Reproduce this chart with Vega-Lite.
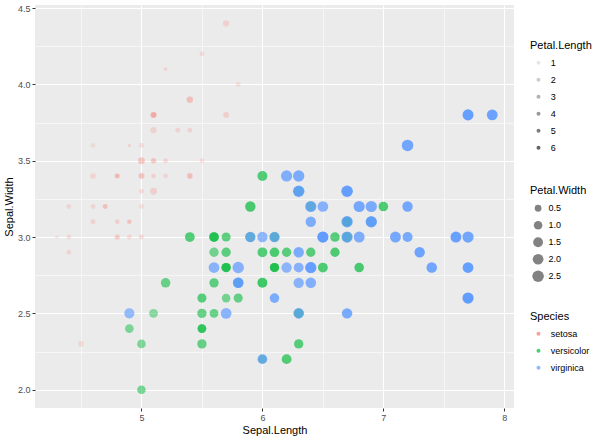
{
  "$schema": "https://vega.github.io/schema/vega-lite/v6.json",
  "width": 479,
  "height": 403,
  "autosize": {"type": "none"},
  "padding": {"left": 35, "top": 5, "right": 86, "bottom": 34},
  "background": "white",
  "config": {
    "font": "Liberation Sans",
    "view": {"fill": "#EBEBEB", "stroke": null},
    "axis": {
      "domain": false,
      "labelFont": "Liberation Sans",
      "labelFontSize": 9,
      "labelColor": "#4D4D4D",
      "titleFont": "Liberation Sans",
      "titleFontSize": 11,
      "titleFontWeight": "normal",
      "titleColor": "#000000",
      "tickColor": "#333333",
      "tickSize": 3,
      "labelPadding": 2,
      "gridColor": "#FFFFFF",
      "gridOpacity": 1,
      "labelOverlap": false,
      "labelFlush": false
    },
    "legend": {
      "titleFont": "Liberation Sans",
      "titleFontSize": 11,
      "titleFontWeight": "normal",
      "titleColor": "#000000",
      "labelFont": "Liberation Sans",
      "labelFontSize": 9,
      "labelColor": "#000000",
      "padding": 0,
      "orient": "none",
      "symbolStrokeWidth": 0,
      "clipHeight": 16.5,
      "rowPadding": 0,
      "titlePadding": 4
    }
  },
  "data": {
    "values": [
      {"SepalLength": 5.1, "SepalWidth": 3.5, "PetalLength": 1.4, "PetalWidth": 0.2, "Species": "setosa"},
      {"SepalLength": 4.9, "SepalWidth": 3.0, "PetalLength": 1.4, "PetalWidth": 0.2, "Species": "setosa"},
      {"SepalLength": 4.7, "SepalWidth": 3.2, "PetalLength": 1.3, "PetalWidth": 0.2, "Species": "setosa"},
      {"SepalLength": 4.6, "SepalWidth": 3.1, "PetalLength": 1.5, "PetalWidth": 0.2, "Species": "setosa"},
      {"SepalLength": 5.0, "SepalWidth": 3.6, "PetalLength": 1.4, "PetalWidth": 0.2, "Species": "setosa"},
      {"SepalLength": 5.4, "SepalWidth": 3.9, "PetalLength": 1.7, "PetalWidth": 0.4, "Species": "setosa"},
      {"SepalLength": 4.6, "SepalWidth": 3.4, "PetalLength": 1.4, "PetalWidth": 0.3, "Species": "setosa"},
      {"SepalLength": 5.0, "SepalWidth": 3.4, "PetalLength": 1.5, "PetalWidth": 0.2, "Species": "setosa"},
      {"SepalLength": 4.4, "SepalWidth": 2.9, "PetalLength": 1.4, "PetalWidth": 0.2, "Species": "setosa"},
      {"SepalLength": 4.9, "SepalWidth": 3.1, "PetalLength": 1.5, "PetalWidth": 0.1, "Species": "setosa"},
      {"SepalLength": 5.4, "SepalWidth": 3.7, "PetalLength": 1.5, "PetalWidth": 0.2, "Species": "setosa"},
      {"SepalLength": 4.8, "SepalWidth": 3.4, "PetalLength": 1.6, "PetalWidth": 0.2, "Species": "setosa"},
      {"SepalLength": 4.8, "SepalWidth": 3.0, "PetalLength": 1.4, "PetalWidth": 0.1, "Species": "setosa"},
      {"SepalLength": 4.3, "SepalWidth": 3.0, "PetalLength": 1.1, "PetalWidth": 0.1, "Species": "setosa"},
      {"SepalLength": 5.8, "SepalWidth": 4.0, "PetalLength": 1.2, "PetalWidth": 0.2, "Species": "setosa"},
      {"SepalLength": 5.7, "SepalWidth": 4.4, "PetalLength": 1.5, "PetalWidth": 0.4, "Species": "setosa"},
      {"SepalLength": 5.4, "SepalWidth": 3.9, "PetalLength": 1.3, "PetalWidth": 0.4, "Species": "setosa"},
      {"SepalLength": 5.1, "SepalWidth": 3.5, "PetalLength": 1.4, "PetalWidth": 0.3, "Species": "setosa"},
      {"SepalLength": 5.7, "SepalWidth": 3.8, "PetalLength": 1.7, "PetalWidth": 0.3, "Species": "setosa"},
      {"SepalLength": 5.1, "SepalWidth": 3.8, "PetalLength": 1.5, "PetalWidth": 0.3, "Species": "setosa"},
      {"SepalLength": 5.4, "SepalWidth": 3.4, "PetalLength": 1.7, "PetalWidth": 0.2, "Species": "setosa"},
      {"SepalLength": 5.1, "SepalWidth": 3.7, "PetalLength": 1.5, "PetalWidth": 0.4, "Species": "setosa"},
      {"SepalLength": 4.6, "SepalWidth": 3.6, "PetalLength": 1.0, "PetalWidth": 0.2, "Species": "setosa"},
      {"SepalLength": 5.1, "SepalWidth": 3.3, "PetalLength": 1.7, "PetalWidth": 0.5, "Species": "setosa"},
      {"SepalLength": 4.8, "SepalWidth": 3.4, "PetalLength": 1.9, "PetalWidth": 0.2, "Species": "setosa"},
      {"SepalLength": 5.0, "SepalWidth": 3.0, "PetalLength": 1.6, "PetalWidth": 0.2, "Species": "setosa"},
      {"SepalLength": 5.0, "SepalWidth": 3.4, "PetalLength": 1.6, "PetalWidth": 0.4, "Species": "setosa"},
      {"SepalLength": 5.2, "SepalWidth": 3.5, "PetalLength": 1.5, "PetalWidth": 0.2, "Species": "setosa"},
      {"SepalLength": 5.2, "SepalWidth": 3.4, "PetalLength": 1.4, "PetalWidth": 0.2, "Species": "setosa"},
      {"SepalLength": 4.7, "SepalWidth": 3.2, "PetalLength": 1.6, "PetalWidth": 0.2, "Species": "setosa"},
      {"SepalLength": 4.8, "SepalWidth": 3.1, "PetalLength": 1.6, "PetalWidth": 0.2, "Species": "setosa"},
      {"SepalLength": 5.4, "SepalWidth": 3.4, "PetalLength": 1.5, "PetalWidth": 0.4, "Species": "setosa"},
      {"SepalLength": 5.2, "SepalWidth": 4.1, "PetalLength": 1.5, "PetalWidth": 0.1, "Species": "setosa"},
      {"SepalLength": 5.5, "SepalWidth": 4.2, "PetalLength": 1.4, "PetalWidth": 0.2, "Species": "setosa"},
      {"SepalLength": 4.9, "SepalWidth": 3.1, "PetalLength": 1.5, "PetalWidth": 0.2, "Species": "setosa"},
      {"SepalLength": 5.0, "SepalWidth": 3.2, "PetalLength": 1.2, "PetalWidth": 0.2, "Species": "setosa"},
      {"SepalLength": 5.5, "SepalWidth": 3.5, "PetalLength": 1.3, "PetalWidth": 0.2, "Species": "setosa"},
      {"SepalLength": 4.9, "SepalWidth": 3.6, "PetalLength": 1.4, "PetalWidth": 0.1, "Species": "setosa"},
      {"SepalLength": 4.4, "SepalWidth": 3.0, "PetalLength": 1.3, "PetalWidth": 0.2, "Species": "setosa"},
      {"SepalLength": 5.1, "SepalWidth": 3.4, "PetalLength": 1.5, "PetalWidth": 0.2, "Species": "setosa"},
      {"SepalLength": 5.0, "SepalWidth": 3.5, "PetalLength": 1.3, "PetalWidth": 0.3, "Species": "setosa"},
      {"SepalLength": 4.5, "SepalWidth": 2.3, "PetalLength": 1.3, "PetalWidth": 0.3, "Species": "setosa"},
      {"SepalLength": 4.4, "SepalWidth": 3.2, "PetalLength": 1.3, "PetalWidth": 0.2, "Species": "setosa"},
      {"SepalLength": 5.0, "SepalWidth": 3.5, "PetalLength": 1.6, "PetalWidth": 0.6, "Species": "setosa"},
      {"SepalLength": 5.1, "SepalWidth": 3.8, "PetalLength": 1.9, "PetalWidth": 0.4, "Species": "setosa"},
      {"SepalLength": 4.8, "SepalWidth": 3.0, "PetalLength": 1.4, "PetalWidth": 0.3, "Species": "setosa"},
      {"SepalLength": 5.1, "SepalWidth": 3.8, "PetalLength": 1.6, "PetalWidth": 0.2, "Species": "setosa"},
      {"SepalLength": 4.6, "SepalWidth": 3.2, "PetalLength": 1.4, "PetalWidth": 0.2, "Species": "setosa"},
      {"SepalLength": 5.3, "SepalWidth": 3.7, "PetalLength": 1.5, "PetalWidth": 0.2, "Species": "setosa"},
      {"SepalLength": 5.0, "SepalWidth": 3.3, "PetalLength": 1.4, "PetalWidth": 0.2, "Species": "setosa"},
      {"SepalLength": 7.0, "SepalWidth": 3.2, "PetalLength": 4.7, "PetalWidth": 1.4, "Species": "versicolor"},
      {"SepalLength": 6.4, "SepalWidth": 3.2, "PetalLength": 4.5, "PetalWidth": 1.5, "Species": "versicolor"},
      {"SepalLength": 6.9, "SepalWidth": 3.1, "PetalLength": 4.9, "PetalWidth": 1.5, "Species": "versicolor"},
      {"SepalLength": 5.5, "SepalWidth": 2.3, "PetalLength": 4.0, "PetalWidth": 1.3, "Species": "versicolor"},
      {"SepalLength": 6.5, "SepalWidth": 2.8, "PetalLength": 4.6, "PetalWidth": 1.5, "Species": "versicolor"},
      {"SepalLength": 5.7, "SepalWidth": 2.8, "PetalLength": 4.5, "PetalWidth": 1.3, "Species": "versicolor"},
      {"SepalLength": 6.3, "SepalWidth": 3.3, "PetalLength": 4.7, "PetalWidth": 1.6, "Species": "versicolor"},
      {"SepalLength": 4.9, "SepalWidth": 2.4, "PetalLength": 3.3, "PetalWidth": 1.0, "Species": "versicolor"},
      {"SepalLength": 6.6, "SepalWidth": 2.9, "PetalLength": 4.6, "PetalWidth": 1.3, "Species": "versicolor"},
      {"SepalLength": 5.2, "SepalWidth": 2.7, "PetalLength": 3.9, "PetalWidth": 1.4, "Species": "versicolor"},
      {"SepalLength": 5.0, "SepalWidth": 2.0, "PetalLength": 3.5, "PetalWidth": 1.0, "Species": "versicolor"},
      {"SepalLength": 5.9, "SepalWidth": 3.0, "PetalLength": 4.2, "PetalWidth": 1.5, "Species": "versicolor"},
      {"SepalLength": 6.0, "SepalWidth": 2.2, "PetalLength": 4.0, "PetalWidth": 1.0, "Species": "versicolor"},
      {"SepalLength": 6.1, "SepalWidth": 2.9, "PetalLength": 4.7, "PetalWidth": 1.4, "Species": "versicolor"},
      {"SepalLength": 5.6, "SepalWidth": 2.9, "PetalLength": 3.6, "PetalWidth": 1.3, "Species": "versicolor"},
      {"SepalLength": 6.7, "SepalWidth": 3.1, "PetalLength": 4.4, "PetalWidth": 1.4, "Species": "versicolor"},
      {"SepalLength": 5.6, "SepalWidth": 3.0, "PetalLength": 4.5, "PetalWidth": 1.5, "Species": "versicolor"},
      {"SepalLength": 5.8, "SepalWidth": 2.7, "PetalLength": 4.1, "PetalWidth": 1.0, "Species": "versicolor"},
      {"SepalLength": 6.2, "SepalWidth": 2.2, "PetalLength": 4.5, "PetalWidth": 1.5, "Species": "versicolor"},
      {"SepalLength": 5.6, "SepalWidth": 2.5, "PetalLength": 3.9, "PetalWidth": 1.1, "Species": "versicolor"},
      {"SepalLength": 5.9, "SepalWidth": 3.2, "PetalLength": 4.8, "PetalWidth": 1.8, "Species": "versicolor"},
      {"SepalLength": 6.1, "SepalWidth": 2.8, "PetalLength": 4.0, "PetalWidth": 1.3, "Species": "versicolor"},
      {"SepalLength": 6.3, "SepalWidth": 2.5, "PetalLength": 4.9, "PetalWidth": 1.5, "Species": "versicolor"},
      {"SepalLength": 6.1, "SepalWidth": 2.8, "PetalLength": 4.7, "PetalWidth": 1.2, "Species": "versicolor"},
      {"SepalLength": 6.4, "SepalWidth": 2.9, "PetalLength": 4.3, "PetalWidth": 1.3, "Species": "versicolor"},
      {"SepalLength": 6.6, "SepalWidth": 3.0, "PetalLength": 4.4, "PetalWidth": 1.4, "Species": "versicolor"},
      {"SepalLength": 6.8, "SepalWidth": 2.8, "PetalLength": 4.8, "PetalWidth": 1.4, "Species": "versicolor"},
      {"SepalLength": 6.7, "SepalWidth": 3.0, "PetalLength": 5.0, "PetalWidth": 1.7, "Species": "versicolor"},
      {"SepalLength": 6.0, "SepalWidth": 2.9, "PetalLength": 4.5, "PetalWidth": 1.5, "Species": "versicolor"},
      {"SepalLength": 5.7, "SepalWidth": 2.6, "PetalLength": 3.5, "PetalWidth": 1.0, "Species": "versicolor"},
      {"SepalLength": 5.5, "SepalWidth": 2.4, "PetalLength": 3.8, "PetalWidth": 1.1, "Species": "versicolor"},
      {"SepalLength": 5.5, "SepalWidth": 2.4, "PetalLength": 3.7, "PetalWidth": 1.0, "Species": "versicolor"},
      {"SepalLength": 5.8, "SepalWidth": 2.7, "PetalLength": 3.9, "PetalWidth": 1.2, "Species": "versicolor"},
      {"SepalLength": 6.0, "SepalWidth": 2.7, "PetalLength": 5.1, "PetalWidth": 1.6, "Species": "versicolor"},
      {"SepalLength": 5.4, "SepalWidth": 3.0, "PetalLength": 4.5, "PetalWidth": 1.5, "Species": "versicolor"},
      {"SepalLength": 6.0, "SepalWidth": 3.4, "PetalLength": 4.5, "PetalWidth": 1.6, "Species": "versicolor"},
      {"SepalLength": 6.7, "SepalWidth": 3.1, "PetalLength": 4.7, "PetalWidth": 1.5, "Species": "versicolor"},
      {"SepalLength": 6.3, "SepalWidth": 2.3, "PetalLength": 4.4, "PetalWidth": 1.3, "Species": "versicolor"},
      {"SepalLength": 5.6, "SepalWidth": 3.0, "PetalLength": 4.1, "PetalWidth": 1.3, "Species": "versicolor"},
      {"SepalLength": 5.5, "SepalWidth": 2.5, "PetalLength": 4.0, "PetalWidth": 1.3, "Species": "versicolor"},
      {"SepalLength": 5.5, "SepalWidth": 2.6, "PetalLength": 4.4, "PetalWidth": 1.2, "Species": "versicolor"},
      {"SepalLength": 6.1, "SepalWidth": 3.0, "PetalLength": 4.6, "PetalWidth": 1.4, "Species": "versicolor"},
      {"SepalLength": 5.8, "SepalWidth": 2.6, "PetalLength": 4.0, "PetalWidth": 1.2, "Species": "versicolor"},
      {"SepalLength": 5.0, "SepalWidth": 2.3, "PetalLength": 3.3, "PetalWidth": 1.0, "Species": "versicolor"},
      {"SepalLength": 5.6, "SepalWidth": 2.7, "PetalLength": 4.2, "PetalWidth": 1.3, "Species": "versicolor"},
      {"SepalLength": 5.7, "SepalWidth": 3.0, "PetalLength": 4.2, "PetalWidth": 1.2, "Species": "versicolor"},
      {"SepalLength": 5.7, "SepalWidth": 2.9, "PetalLength": 4.2, "PetalWidth": 1.3, "Species": "versicolor"},
      {"SepalLength": 6.2, "SepalWidth": 2.9, "PetalLength": 4.3, "PetalWidth": 1.3, "Species": "versicolor"},
      {"SepalLength": 5.1, "SepalWidth": 2.5, "PetalLength": 3.0, "PetalWidth": 1.1, "Species": "versicolor"},
      {"SepalLength": 5.7, "SepalWidth": 2.8, "PetalLength": 4.1, "PetalWidth": 1.3, "Species": "versicolor"},
      {"SepalLength": 6.3, "SepalWidth": 3.3, "PetalLength": 6.0, "PetalWidth": 2.5, "Species": "virginica"},
      {"SepalLength": 5.8, "SepalWidth": 2.7, "PetalLength": 5.1, "PetalWidth": 1.9, "Species": "virginica"},
      {"SepalLength": 7.1, "SepalWidth": 3.0, "PetalLength": 5.9, "PetalWidth": 2.1, "Species": "virginica"},
      {"SepalLength": 6.3, "SepalWidth": 2.9, "PetalLength": 5.6, "PetalWidth": 1.8, "Species": "virginica"},
      {"SepalLength": 6.5, "SepalWidth": 3.0, "PetalLength": 5.8, "PetalWidth": 2.2, "Species": "virginica"},
      {"SepalLength": 7.6, "SepalWidth": 3.0, "PetalLength": 6.6, "PetalWidth": 2.1, "Species": "virginica"},
      {"SepalLength": 4.9, "SepalWidth": 2.5, "PetalLength": 4.5, "PetalWidth": 1.7, "Species": "virginica"},
      {"SepalLength": 7.3, "SepalWidth": 2.9, "PetalLength": 6.3, "PetalWidth": 1.8, "Species": "virginica"},
      {"SepalLength": 6.7, "SepalWidth": 2.5, "PetalLength": 5.8, "PetalWidth": 1.8, "Species": "virginica"},
      {"SepalLength": 7.2, "SepalWidth": 3.6, "PetalLength": 6.1, "PetalWidth": 2.5, "Species": "virginica"},
      {"SepalLength": 6.5, "SepalWidth": 3.2, "PetalLength": 5.1, "PetalWidth": 2.0, "Species": "virginica"},
      {"SepalLength": 6.4, "SepalWidth": 2.7, "PetalLength": 5.3, "PetalWidth": 1.9, "Species": "virginica"},
      {"SepalLength": 6.8, "SepalWidth": 3.0, "PetalLength": 5.5, "PetalWidth": 2.1, "Species": "virginica"},
      {"SepalLength": 5.7, "SepalWidth": 2.5, "PetalLength": 5.0, "PetalWidth": 2.0, "Species": "virginica"},
      {"SepalLength": 5.8, "SepalWidth": 2.8, "PetalLength": 5.1, "PetalWidth": 2.4, "Species": "virginica"},
      {"SepalLength": 6.4, "SepalWidth": 3.2, "PetalLength": 5.3, "PetalWidth": 2.3, "Species": "virginica"},
      {"SepalLength": 6.5, "SepalWidth": 3.0, "PetalLength": 5.5, "PetalWidth": 1.8, "Species": "virginica"},
      {"SepalLength": 7.7, "SepalWidth": 3.8, "PetalLength": 6.7, "PetalWidth": 2.2, "Species": "virginica"},
      {"SepalLength": 7.7, "SepalWidth": 2.6, "PetalLength": 6.9, "PetalWidth": 2.3, "Species": "virginica"},
      {"SepalLength": 6.0, "SepalWidth": 2.2, "PetalLength": 5.0, "PetalWidth": 1.5, "Species": "virginica"},
      {"SepalLength": 6.9, "SepalWidth": 3.2, "PetalLength": 5.7, "PetalWidth": 2.3, "Species": "virginica"},
      {"SepalLength": 5.6, "SepalWidth": 2.8, "PetalLength": 4.9, "PetalWidth": 2.0, "Species": "virginica"},
      {"SepalLength": 7.7, "SepalWidth": 2.8, "PetalLength": 6.7, "PetalWidth": 2.0, "Species": "virginica"},
      {"SepalLength": 6.3, "SepalWidth": 2.7, "PetalLength": 4.9, "PetalWidth": 1.8, "Species": "virginica"},
      {"SepalLength": 6.7, "SepalWidth": 3.3, "PetalLength": 5.7, "PetalWidth": 2.1, "Species": "virginica"},
      {"SepalLength": 7.2, "SepalWidth": 3.2, "PetalLength": 6.0, "PetalWidth": 1.8, "Species": "virginica"},
      {"SepalLength": 6.2, "SepalWidth": 2.8, "PetalLength": 4.8, "PetalWidth": 1.8, "Species": "virginica"},
      {"SepalLength": 6.1, "SepalWidth": 3.0, "PetalLength": 4.9, "PetalWidth": 1.8, "Species": "virginica"},
      {"SepalLength": 6.4, "SepalWidth": 2.8, "PetalLength": 5.6, "PetalWidth": 2.1, "Species": "virginica"},
      {"SepalLength": 7.2, "SepalWidth": 3.0, "PetalLength": 5.8, "PetalWidth": 1.6, "Species": "virginica"},
      {"SepalLength": 7.4, "SepalWidth": 2.8, "PetalLength": 6.1, "PetalWidth": 1.9, "Species": "virginica"},
      {"SepalLength": 7.9, "SepalWidth": 3.8, "PetalLength": 6.4, "PetalWidth": 2.0, "Species": "virginica"},
      {"SepalLength": 6.4, "SepalWidth": 2.8, "PetalLength": 5.6, "PetalWidth": 2.2, "Species": "virginica"},
      {"SepalLength": 6.3, "SepalWidth": 2.8, "PetalLength": 5.1, "PetalWidth": 1.5, "Species": "virginica"},
      {"SepalLength": 6.1, "SepalWidth": 2.6, "PetalLength": 5.6, "PetalWidth": 1.4, "Species": "virginica"},
      {"SepalLength": 7.7, "SepalWidth": 3.0, "PetalLength": 6.1, "PetalWidth": 2.3, "Species": "virginica"},
      {"SepalLength": 6.3, "SepalWidth": 3.4, "PetalLength": 5.6, "PetalWidth": 2.4, "Species": "virginica"},
      {"SepalLength": 6.4, "SepalWidth": 3.1, "PetalLength": 5.5, "PetalWidth": 1.8, "Species": "virginica"},
      {"SepalLength": 6.0, "SepalWidth": 3.0, "PetalLength": 4.8, "PetalWidth": 1.8, "Species": "virginica"},
      {"SepalLength": 6.9, "SepalWidth": 3.1, "PetalLength": 5.4, "PetalWidth": 2.1, "Species": "virginica"},
      {"SepalLength": 6.7, "SepalWidth": 3.1, "PetalLength": 5.6, "PetalWidth": 2.4, "Species": "virginica"},
      {"SepalLength": 6.9, "SepalWidth": 3.1, "PetalLength": 5.1, "PetalWidth": 2.3, "Species": "virginica"},
      {"SepalLength": 5.8, "SepalWidth": 2.7, "PetalLength": 5.1, "PetalWidth": 1.9, "Species": "virginica"},
      {"SepalLength": 6.8, "SepalWidth": 3.2, "PetalLength": 5.9, "PetalWidth": 2.3, "Species": "virginica"},
      {"SepalLength": 6.7, "SepalWidth": 3.3, "PetalLength": 5.7, "PetalWidth": 2.5, "Species": "virginica"},
      {"SepalLength": 6.7, "SepalWidth": 3.0, "PetalLength": 5.2, "PetalWidth": 2.3, "Species": "virginica"},
      {"SepalLength": 6.3, "SepalWidth": 2.5, "PetalLength": 5.0, "PetalWidth": 1.9, "Species": "virginica"},
      {"SepalLength": 6.5, "SepalWidth": 3.0, "PetalLength": 5.2, "PetalWidth": 2.0, "Species": "virginica"},
      {"SepalLength": 6.2, "SepalWidth": 3.4, "PetalLength": 5.4, "PetalWidth": 2.3, "Species": "virginica"},
      {"SepalLength": 5.9, "SepalWidth": 3.0, "PetalLength": 5.1, "PetalWidth": 1.8, "Species": "virginica"}
    ]
  },
  "mark": {"type": "point", "filled": true, "shape": "circle", "strokeWidth": 0},
  "encoding": {
    "x": {
      "field": "SepalLength",
      "type": "quantitative",
      "title": "Sepal.Length",
      "scale": {"domain": [4.12, 8.08], "nice": false, "zero": false},
      "axis": {
        "values": [4.5, 5, 5.5, 6, 6.5, 7, 7.5, 8],
        "labelExpr": "datum.value % 1 === 0 ? format(datum.value, 'd') : ''",
        "gridWidth": {"condition": {"test": "datum.value % 1 === 0", "value": 1.1}, "value": 0.55},
        "tickOpacity": {"condition": {"test": "datum.value % 1 === 0", "value": 1}, "value": 0},
        "titlePadding": 2
      }
    },
    "y": {
      "field": "SepalWidth",
      "type": "quantitative",
      "title": "Sepal.Width",
      "scale": {"domain": [1.88, 4.52], "nice": false, "zero": false},
      "axis": {
        "values": [2, 2.25, 2.5, 2.75, 3, 3.25, 3.5, 3.75, 4, 4.25, 4.5],
        "labelExpr": "(datum.value * 2) % 1 === 0 ? format(datum.value, '.1f') : ''",
        "gridWidth": {"condition": {"test": "(datum.value * 2) % 1 === 0", "value": 1.1}, "value": 0.55},
        "tickOpacity": {"condition": {"test": "(datum.value * 2) % 1 === 0", "value": 1}, "value": 0},
        "titlePadding": 3
      }
    },
    "color": {
      "field": "Species",
      "type": "nominal",
      "title": "Species",
      "scale": {"domain": ["setosa", "versicolor", "virginica"], "range": ["#F8766D", "#00BA38", "#619CFF"]},
      "legend": {
        "legendX": 495, "legendY": 305.5,
        "symbolSize": 16, "symbolType": "circle", "symbolOffset": 4, "labelOffset": 7.8,
        "encode": {
          "entries": {"update": {"fill": {"value": "#F2F2F2"}, "width": {"value": 17.3}, "height": {"value": 16.5}}},
          "symbols": {"update": {"opacity": {"value": 1}, "strokeWidth": {"value": 0}}}
        }
      }
    },
    "size": {
      "field": "PetalWidth",
      "type": "quantitative",
      "title": "Petal.Width",
      "scale": {"type": "pow", "exponent": 0.6, "domain": [0.1, 2.5], "range": [13, 133], "zero": false},
      "legend": {
        "legendX": 495, "legendY": 180,
        "values": [0.5, 1, 1.5, 2, 2.5], "format": ".1f",
        "symbolType": "circle", "symbolOffset": 2.1, "labelOffset": 4.5,
        "encode": {
          "entries": {"update": {"fill": {"value": "#F2F2F2"}, "width": {"value": 17.3}, "height": {"value": 16.5}}},
          "symbols": {"update": {"fill": {"value": "#000000"}, "opacity": {"value": 1}, "strokeWidth": {"value": 0}}}
        }
      }
    },
    "opacity": {
      "field": "PetalLength",
      "type": "quantitative",
      "title": "Petal.Length",
      "scale": {"domain": [1.0, 6.9], "range": [0.14, 1], "zero": false},
      "legend": {
        "legendX": 495, "legendY": 34.5,
        "values": [1, 2, 3, 4, 5, 6], "format": "d",
        "symbolType": "circle", "symbolSize": 16, "symbolOffset": 4, "labelOffset": 7.8,
        "encode": {
          "entries": {"update": {"fill": {"value": "#F2F2F2"}, "width": {"value": 17.3}, "height": {"value": 16.5}}},
          "symbols": {"update": {"fill": {"value": "#000000"}, "strokeWidth": {"value": 0}}}
        }
      }
    }
  }
}
